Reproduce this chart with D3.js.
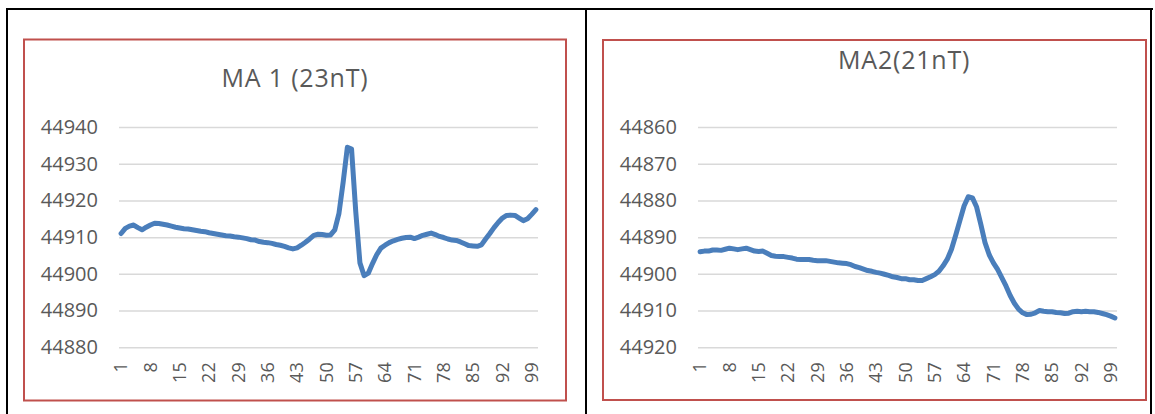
<!DOCTYPE html>
<html>
<head>
<meta charset="utf-8">
<script src="https://cdn.jsdelivr.net/npm/d3@7"></script>
<style>
  body { margin: 0; background: #fff; }
  svg { display: block; }
  text { font-family: 'Open Sans', sans-serif; fill: #595959; }
</style>
</head>
<body>
<div class="chart"></div>
<script>
'use strict';

// Data (100 readings per profile)
const categories = d3.range(1, 101);
const xTickLabels = [1, 8, 15, 22, 29, 36, 43, 50, 57, 64, 71, 78, 85, 92, 99];

const ma1Title = 'MA 1 (23nT)';
const ma1Ticks = [44880, 44890, 44900, 44910, 44920, 44930, 44940];
const ma1Values = [
  44911.0, 44912.4, 44913.0, 44913.3, 44912.6, 44912.0, 44912.7, 44913.3, 44913.8, 44913.7,
  44913.5, 44913.3, 44913.0, 44912.7, 44912.5, 44912.3, 44912.2, 44912.0, 44911.8, 44911.6,
  44911.5, 44911.2, 44911.0, 44910.8, 44910.6, 44910.4, 44910.3, 44910.1, 44910.0, 44909.8,
  44909.6, 44909.3, 44909.2, 44908.8, 44908.6, 44908.5, 44908.3, 44908.0, 44907.8, 44907.5,
  44907.1, 44906.8, 44907.1, 44907.8, 44908.6, 44909.5, 44910.5, 44910.8, 44910.7, 44910.5,
  44910.6, 44912.0, 44916.5, 44925.0, 44934.5, 44934.0, 44917.0, 44903.0, 44899.5, 44900.2,
  44902.8, 44905.2, 44907.0, 44907.8, 44908.5, 44909.0, 44909.4, 44909.7, 44909.9, 44910.0,
  44909.6, 44910.0, 44910.5, 44910.8, 44911.1, 44910.7, 44910.2, 44909.9, 44909.5, 44909.2,
  44909.1, 44908.7, 44908.2, 44907.7, 44907.6, 44907.5, 44907.9, 44909.5, 44911.0, 44912.6,
  44914.0, 44915.2, 44915.9, 44916.0, 44915.9, 44915.2, 44914.5, 44915.0, 44916.2, 44917.5
];

const ma2Title = 'MA2(21nT)';
const ma2Ticks = [44860, 44870, 44880, 44890, 44900, 44910, 44920];
const ma2Values = [
  44894.0, 44893.8, 44893.8, 44893.5, 44893.5, 44893.6, 44893.3, 44893.0, 44893.2, 44893.4,
  44893.2, 44893.0, 44893.4, 44893.8, 44893.9, 44893.8, 44894.4, 44895.0, 44895.2, 44895.3,
  44895.3, 44895.5, 44895.7, 44896.0, 44896.1, 44896.1, 44896.1, 44896.3, 44896.4, 44896.4,
  44896.4, 44896.6, 44896.8, 44897.0, 44897.1, 44897.2, 44897.5, 44898.0, 44898.3, 44898.7,
  44899.1, 44899.3, 44899.6, 44899.8, 44900.1, 44900.4, 44900.8, 44901.0, 44901.3, 44901.3,
  44901.6, 44901.6, 44901.8, 44901.8, 44901.3, 44900.8, 44900.2, 44899.3, 44897.8, 44896.0,
  44893.3, 44889.5, 44885.5, 44881.5, 44879.0, 44879.3, 44881.8, 44886.5, 44891.5, 44894.8,
  44897.0, 44898.8, 44901.0, 44903.3, 44905.9, 44908.0, 44909.6, 44910.6, 44911.1, 44911.0,
  44910.6, 44910.0, 44910.2, 44910.3, 44910.3, 44910.5, 44910.6, 44910.8, 44910.7, 44910.3,
  44910.2, 44910.3, 44910.2, 44910.3, 44910.3, 44910.5, 44910.8, 44911.1, 44911.5, 44912.0
];

// Page size
const w = 1155;
const h = 414;
const lineColor = '#4A7EBB';
const gridColor = '#D9D9D9';
const frameColor = '#C0504D';

const svg = d3.select('.chart')
  .append('svg')
  .attr('width', w)
  .attr('height', h);

svg.append('rect')
  .attr('width', w)
  .attr('height', h)
  .attr('fill', '#fff');

// Table cell borders
const table = svg.append('g')
  .attr('stroke', '#000')
  .attr('stroke-width', 2);
table.append('line').attr('x1', 6).attr('x2', 1153).attr('y1', 9).attr('y2', 9);
[7, 586, 1151].forEach(x => {
  table.append('line').attr('x1', x).attr('x2', x).attr('y1', 8).attr('y2', h);
});

function drawChart(cfg) {
  const g = svg.append('g');

  // Chart frame
  g.append('rect')
    .attr('x', cfg.frame[0])
    .attr('y', cfg.frame[1])
    .attr('width', cfg.frame[2])
    .attr('height', cfg.frame[3])
    .attr('fill', '#fff')
    .attr('stroke', frameColor)
    .attr('stroke-width', 2);

  // Title
  g.append('text')
    .attr('x', cfg.titleX)
    .attr('y', cfg.titleY)
    .attr('text-anchor', cfg.titleAnchor)
    .style('font-size', '25px')
    .style('letter-spacing', '0.8px')
    .text(cfg.title);

  // Scales
  const xScale = d3.scaleBand()
    .domain(categories)
    .range([cfg.left, cfg.right]);

  const yDomain = d3.extent(cfg.ticks);
  const yScale = d3.scaleLinear()
    .domain(cfg.reversed ? yDomain.reverse() : yDomain)
    .range([cfg.bottom, cfg.top]);

  // Gridlines + y labels
  const yAxis = d3.axisLeft(yScale)
    .tickValues(cfg.ticks)
    .tickSize(-(cfg.right - cfg.left))
    .tickPadding(21)
    .tickFormat(d3.format('d'));

  const yG = g.append('g')
    .attr('transform', `translate(${cfg.left}, 0)`)
    .call(yAxis);
  yG.select('.domain').remove();
  yG.selectAll('.tick line')
    .attr('stroke', gridColor)
    .attr('stroke-width', 1.5);
  yG.selectAll('.tick text')
    .attr('font-family', null)
    .style('font-size', '20px')
    .attr('fill', null);

  // x labels, rotated
  const xAxis = d3.axisBottom(xScale)
    .tickValues(xTickLabels)
    .tickSize(0)
    .tickPadding(0);

  const xG = g.append('g')
    .attr('transform', `translate(0, ${cfg.bottom})`)
    .call(xAxis);
  xG.select('.domain').remove();
  xG.selectAll('.tick text')
    .attr('font-family', null)
    .attr('fill', null)
    .style('font-size', '18px')
    .attr('text-anchor', 'end')
    .attr('transform', 'rotate(-90)')
    .attr('x', -15)
    .attr('y', 0)
    .attr('dy', '0.35em');

  // Line
  const line = d3.line()
    .x((d, i) => xScale(categories[i]) + xScale.bandwidth() / 2)
    .y(d => yScale(d));

  g.append('path')
    .datum(cfg.values)
    .attr('d', line)
    .attr('fill', 'none')
    .attr('stroke', lineColor)
    .attr('stroke-width', 5)
    .attr('stroke-linejoin', 'round')
    .attr('stroke-linecap', 'round');
}

drawChart({
  frame: [24, 39.5, 542, 361],
  title: ma1Title,
  titleX: 295, titleY: 87, titleAnchor: 'middle',
  ticks: ma1Ticks, values: ma1Values, reversed: false,
  left: 119, right: 538, top: 127, bottom: 347.3
});

drawChart({
  frame: [603, 40, 543, 360],
  title: ma2Title,
  titleX: 838, titleY: 69, titleAnchor: 'start',
  ticks: ma2Ticks, values: ma2Values, reversed: true,
  left: 698, right: 1117, top: 127, bottom: 347.3
});
</script>
</body>
</html>
